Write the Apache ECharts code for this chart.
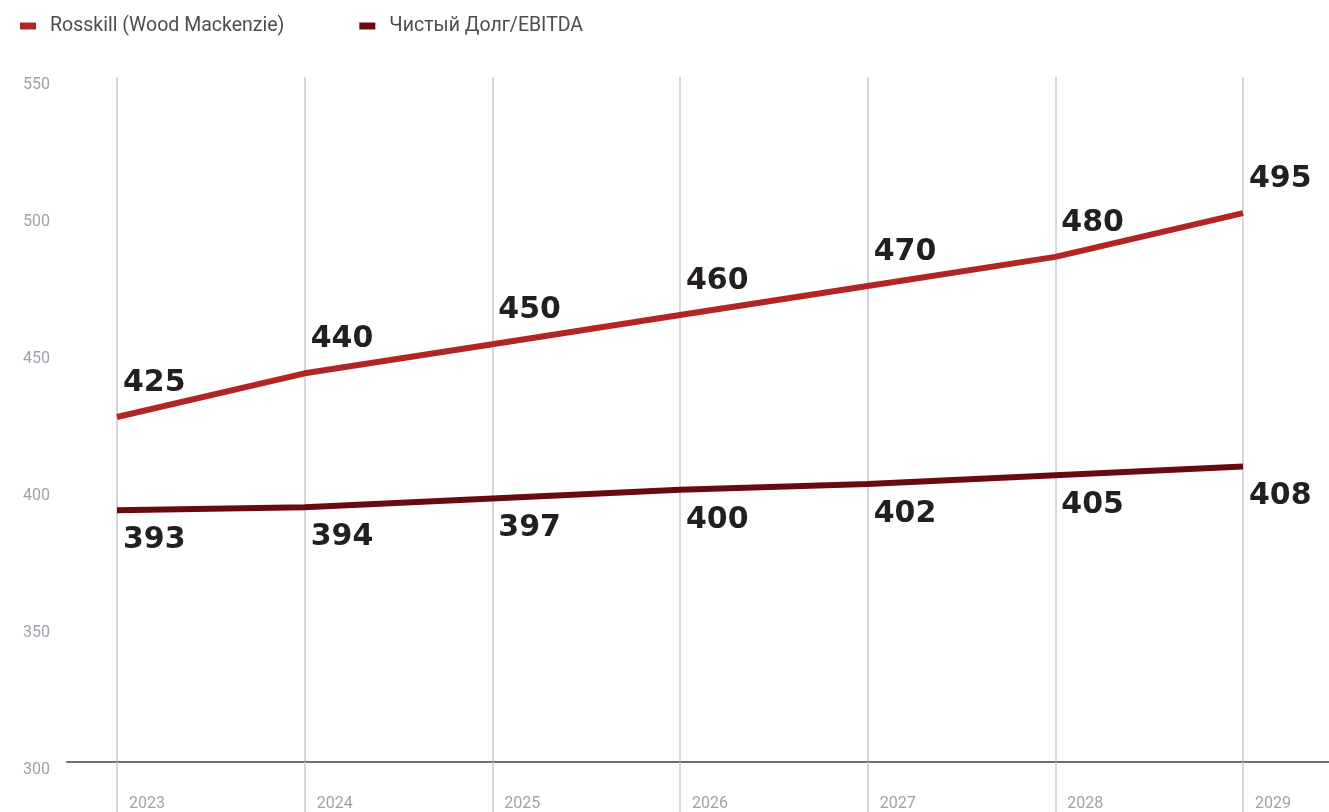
<!DOCTYPE html>
<html>
<head>
<meta charset="utf-8">
<script src="https://cdn.jsdelivr.net/npm/echarts@6/dist/echarts.min.js"></script>
<style>
    html, body { margin: 0; padding: 0; background: #fff; }
    #chart { width: 1329px; height: 812px; }
</style>
</head>
<body>
<div id="chart"></div>
<script>
var years = ['2023', '2024', '2025', '2026', '2027', '2028', '2029'];
var rosskill = [425, 440, 450, 460, 470, 480, 495];
var netDebt = [393, 394, 397, 400, 402, 405, 408];
var yTicks = [300, 350, 400, 450, 500, 550];

var gridColor = '#c6cacf';
var labelColor = '#9ba3ab';

function lineSeries(name, data, color, labelPos) {
    return {
        name: name,
        type: 'line',
        xAxisIndex: 2,
        yAxisIndex: 2,
        data: data,
        symbol: 'circle',
        symbolSize: 0,
        showSymbol: true,
        lineStyle: { color: color, width: 6 },
        itemStyle: { color: color },
        label: {
            show: true,
            position: labelPos,
            align: 'left',
            verticalAlign: 'middle',
            fontFamily: 'DejaVu Sans',
            fontWeight: 'bold',
            fontSize: 30,
            color: '#231f20'
        },
        z: 5
    };
}

var myChart = echarts.init(document.getElementById('chart'));

var option = {
    backgroundColor: '#fff',
    animation: false,
    legend: {
        left: 15,
        top: 11,
        itemWidth: 16,
        itemHeight: 7,
        itemGap: 75,
        icon: 'rect',
        textStyle: {
            fontFamily: 'Roboto',
            fontSize: 19.5,
            color: '#4d4d4d',
            padding: [0, 0, 0, 9]
        },
        data: ['Rosskill (Wood Mackenzie)', 'Чистый Долг/EBITDA']
    },
    grid: [
        // рамка: вертикальные линии и годы
        { left: 117, right: 86, top: 77, bottom: 50 },
        // базовая линия и подписи оси Y
        { left: 67, right: 0, top: 77, bottom: 50 },
        // линии данных
        { left: 117, right: 86, top: 53, bottom: 31 }
    ],
    xAxis: [
        {
            gridIndex: 0,
            type: 'category',
            boundaryGap: false,
            data: years,
            axisLine: { show: false },
            axisTick: {
                show: true,
                length: 50,
                lineStyle: { color: gridColor, width: 1.5 }
            },
            splitLine: { show: true, lineStyle: { color: gridColor, width: 1.5 } },
            axisLabel: {
                margin: 34,
                align: 'left',
                padding: [0, 0, 0, 12],
                fontFamily: 'Roboto',
                fontSize: 16,
                color: labelColor
            }
        },
        {
            gridIndex: 1,
            type: 'category',
            boundaryGap: false,
            data: years,
            axisLine: { show: true, lineStyle: { color: '#68737c', width: 2 } },
            axisTick: { show: false },
            axisLabel: { show: false },
            splitLine: { show: false }
        },
        {
            gridIndex: 2,
            type: 'category',
            boundaryGap: false,
            data: years,
            show: false
        }
    ],
    yAxis: [
        {
            gridIndex: 0,
            type: 'value',
            min: 300,
            max: 550,
            show: false
        },
        {
            gridIndex: 1,
            type: 'value',
            min: yTicks[0],
            max: yTicks[yTicks.length - 1],
            interval: 50,
            axisLine: { show: false },
            axisTick: { show: false },
            splitLine: { show: false },
            axisLabel: {
                margin: 44,
                align: 'left',
                verticalAlign: 'top',
                fontFamily: 'Roboto',
                fontSize: 16,
                color: labelColor
            }
        },
        {
            gridIndex: 2,
            type: 'value',
            min: 300,
            max: 550,
            show: false
        }
    ],
    series: [
        lineSeries('Rosskill (Wood Mackenzie)', rosskill, '#b22525', [6, -34]),
        lineSeries('Чистый Долг/EBITDA', netDebt, '#690a10', [6, 30])
    ]
};

myChart.setOption(option);
</script>
</body>
</html>
